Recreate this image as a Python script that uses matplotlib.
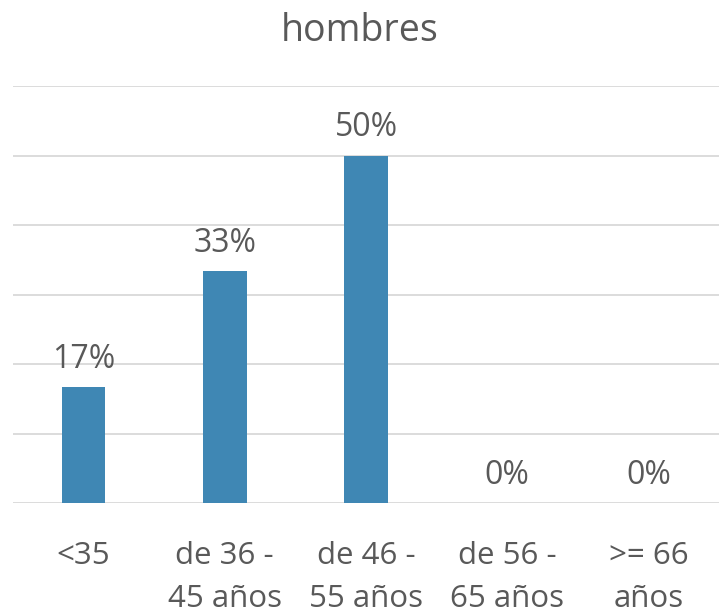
import matplotlib.pyplot as plt
import numpy as np

plt.rcParams['font.family'] = ['Open Sans', 'DejaVu Sans']

# data
categorias = ['<35', 'de 36 -\n45 años', 'de 46 -\n55 años', 'de 56 -\n65 años', '>= 66\naños']
valores = [16.67, 33.33, 50.0, 0.0, 0.0]
etiquetas = ['17%', '33%', '50%', '0%', '0%']
titulo = 'hombres'

gris = '#595959'
azul = '#3F87B4'

fig = plt.figure(figsize=(7.19, 6.15), dpi=100)
ax = fig.add_axes([13/719, 1-503/615, 706/719, (503-86)/615])

x = np.arange(len(categorias))
ax.bar(x, valores, width=0.31, color=azul, zorder=3)
ax.set_xlim(-0.5, len(categorias)-0.5)
ax.set_ylim(0, 60)
ax.set_yticks(np.arange(0, 61, 10))
ax.yaxis.grid(True, color='#D9D9D9', linewidth=1.3, zorder=0)
ax.tick_params(axis='y', left=False, labelleft=False)
ax.tick_params(axis='x', length=0, pad=27)
for s in ax.spines.values():
    s.set_visible(False)

ax.set_xticks(x)
ax.set_xticklabels(categorias, fontsize=22.5, color=gris, linespacing=1.6)

for xi, v, t in zip(x, valores, etiquetas):
    ax.annotate(t, (xi, v), xytext=(0, 8), textcoords='offset points',
                ha='center', va='bottom', fontsize=23, color=gris)

fig.text(0.5, 1-41/615, titulo, ha='center', va='baseline', fontsize=27, color=gris)

fig.savefig('out.png', dpi=100)
